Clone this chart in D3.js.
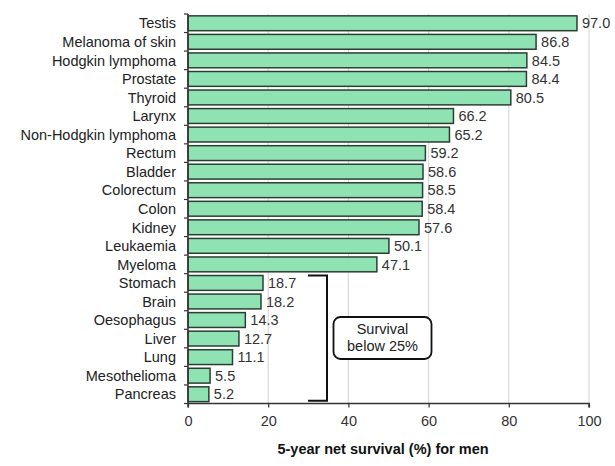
<!DOCTYPE html>
<html><head><meta charset="utf-8">
<script src="https://cdn.jsdelivr.net/npm/d3@7"></script>
<style>body{margin:0;background:#fff}svg{display:block}text{font-family:"Liberation Sans",Arial,sans-serif}</style>
</head><body><svg id="c" width="615" height="466"></svg>
<script>
const categories = ["Testis","Melanoma of skin","Hodgkin lymphoma","Prostate","Thyroid","Larynx","Non-Hodgkin lymphoma","Rectum","Bladder","Colorectum","Colon","Kidney","Leukaemia","Myeloma","Stomach","Brain","Oesophagus","Liver","Lung","Mesothelioma","Pancreas"];
const survival = [97.0,86.8,84.5,84.4,80.5,66.2,65.2,59.2,58.6,58.5,58.4,57.6,50.1,47.1,18.7,18.2,14.3,12.7,11.1,5.5,5.2];
const xTicks = [0,20,40,60,80,100];
const lowGroup = ["Stomach","Pancreas"];
const axisTitle = "5-year net survival (%) for men";
const noteLines = ["Survival","below 25%"];

const FS = 14.5;
const plotTop = 14, plotBottom = 403.5;
const svg = d3.select("#c");
const x = d3.scaleLinear().domain([0,100]).range([188,589]);
const y = d3.scaleBand().domain(categories).range([plotTop,plotBottom]).paddingInner(0.2).paddingOuter(0.1);

// gridlines
svg.append("g").selectAll("line").data(xTicks.slice(1)).join("line")
  .attr("x1",d=>x(d)).attr("x2",d=>x(d)).attr("y1",plotTop).attr("y2",plotBottom)
  .attr("stroke","#d9d9d9").attr("stroke-width",1.2);

// bars
svg.append("g").selectAll("rect").data(categories).join("rect")
  .attr("x",x(0)).attr("y",d=>y(d)).attr("width",(d,i)=>x(survival[i])-x(0)).attr("height",y.bandwidth())
  .attr("fill","#8fe2b2").attr("stroke","#2c3e34").attr("stroke-width",1.5);

// value labels
svg.append("g").selectAll("text").data(categories).join("text")
  .attr("x",(d,i)=>x(survival[i])+5).attr("y",d=>y(d)+y.bandwidth()/2).attr("dy","0.36em")
  .attr("font-size",FS).attr("fill","#333").text((d,i)=>survival[i].toFixed(1));

// y axis
const ya = svg.append("g").attr("transform",`translate(${x(0)},0)`);
ya.append("line").attr("x1",0).attr("x2",0).attr("y1",plotTop).attr("y2",plotBottom).attr("stroke","#333").attr("stroke-width",1.5);
const step = (plotBottom-plotTop)/categories.length;
ya.selectAll("line.t").data(d3.range(categories.length+1)).join("line").attr("class","t")
  .attr("x1",-4).attr("x2",0).attr("y1",i=>plotTop+i*step).attr("y2",i=>plotTop+i*step)
  .attr("stroke","#333").attr("stroke-width",1.2);
ya.selectAll("text").data(categories).join("text")
  .attr("x",-12).attr("y",d=>y(d)+y.bandwidth()/2).attr("dy","0.36em").attr("text-anchor","end")
  .attr("font-size",FS).attr("fill","#222").text(d=>d);

// x axis
const xa = svg.append("g").attr("transform",`translate(0,${plotBottom})`)
  .call(d3.axisBottom(x).tickValues(xTicks).tickSize(4).tickPadding(8).tickFormat(d3.format("d")));
xa.select(".domain").attr("stroke","#333").attr("stroke-width",1.5).attr("d",`M${x(0)},4V0H${x(100)}V4`);
xa.selectAll(".tick line").attr("stroke","#333").attr("stroke-width",1.2);
xa.selectAll(".tick text").attr("font-size",FS).attr("fill","#333").attr("font-family","Liberation Sans, Arial, sans-serif");

svg.append("text").attr("x",383).attr("y",454).attr("text-anchor","middle")
  .attr("font-size",FS).attr("font-weight","bold").attr("fill","#111").text(axisTitle);

// bracket
const by0 = y(lowGroup[0]), by1 = y(lowGroup[1]) + y.bandwidth() - 1;
svg.append("path").attr("d",`M308,${by0}H327V${by1}H308`).attr("fill","none").attr("stroke","#111").attr("stroke-width",2);

// note box
svg.append("rect").attr("x",333.5).attr("y",317).attr("width",98).attr("height",42).attr("rx",7)
  .attr("fill","#fff").attr("stroke","#111").attr("stroke-width",1.8);
svg.append("g").selectAll("text").data(noteLines).join("text")
  .attr("x",382.5).attr("y",(d,i)=>334+i*17).attr("text-anchor","middle").attr("font-size",FS).attr("fill","#222").text(d=>d);
</script></body></html>
